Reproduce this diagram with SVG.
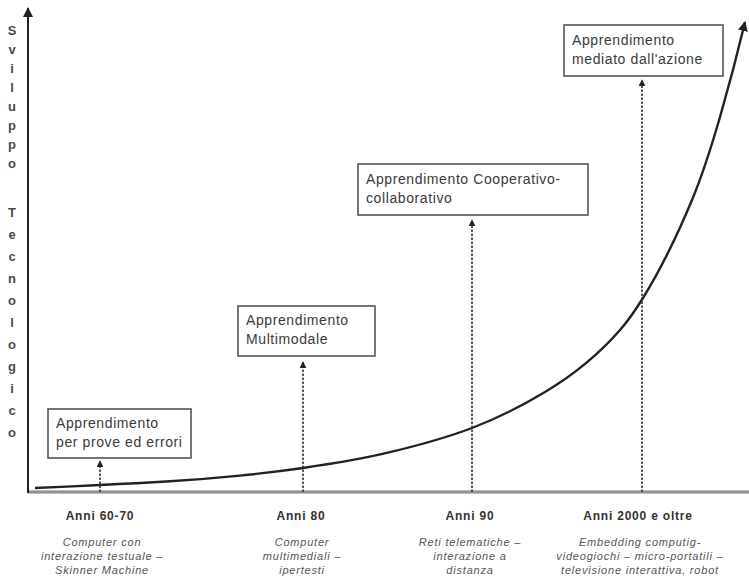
<svg xmlns="http://www.w3.org/2000/svg" width="749" height="579" viewBox="0 0 749 579">
  <style>
    .box { fill: #fff; stroke: #555; stroke-width: 1.6; }
    .boxtxt { font-family: "Liberation Sans", Arial, sans-serif; font-size: 14px; fill: #3a3a3a; letter-spacing: 0.6px; }
    .axislbl { font-family: "Liberation Sans", Arial, sans-serif; font-size: 13px; font-weight: bold; fill: #4a4a4a; text-anchor: middle; }
    .era { font-family: "Liberation Sans", Arial, sans-serif; font-size: 12px; font-weight: bold; fill: #333; text-anchor: middle; letter-spacing: 0.8px; }
    .desc { font-family: "Liberation Sans", Arial, sans-serif; font-size: 11px; font-style: italic; fill: #555; text-anchor: middle; letter-spacing: 0.8px; }
    .guide { stroke: #333; stroke-width: 1.6; stroke-dasharray: 2.5 1.5; fill: none; }
  </style>
  <defs>
    <marker id="tip" viewBox="0 0 10 10" refX="9" refY="5" markerWidth="7" markerHeight="7" orient="auto" markerUnits="userSpaceOnUse">
      <path d="M0,0 L10,5 L0,10 z" fill="#222"/>
    </marker>
    <marker id="bigtip" viewBox="0 0 10 10" refX="9" refY="5" markerWidth="10" markerHeight="10" orient="auto" markerUnits="userSpaceOnUse">
      <path d="M0,0 L10,5 L0,10 z" fill="#222"/>
    </marker>
  </defs>
  <rect width="749" height="579" fill="#fff"/>

  <!-- vertical axis title, one letter per line -->
  <g id="y-title">
    <text class="axislbl" x="12" y="35">S</text>
    <text class="axislbl" x="12" y="54">v</text>
    <text class="axislbl" x="12" y="73">i</text>
    <text class="axislbl" x="12" y="92">l</text>
    <text class="axislbl" x="12" y="111">u</text>
    <text class="axislbl" x="12" y="130">p</text>
    <text class="axislbl" x="12" y="149">p</text>
    <text class="axislbl" x="12" y="168">o</text>
    <text class="axislbl" x="12" y="217">T</text>
    <text class="axislbl" x="12" y="239">e</text>
    <text class="axislbl" x="12" y="261">c</text>
    <text class="axislbl" x="12" y="283">n</text>
    <text class="axislbl" x="12" y="305">o</text>
    <text class="axislbl" x="12" y="327">l</text>
    <text class="axislbl" x="12" y="349">o</text>
    <text class="axislbl" x="12" y="371">g</text>
    <text class="axislbl" x="12" y="393">i</text>
    <text class="axislbl" x="12" y="415">c</text>
    <text class="axislbl" x="12" y="437">o</text>
  </g>

  <!-- axes -->
  <g id="axes">
    <line x1="28" y1="492" x2="749" y2="492" stroke="#777" stroke-width="3"/>
    <line x1="28" y1="492" x2="749" y2="492" stroke="#bbb" stroke-width="0.8"/>
    <line x1="28" y1="493" x2="28" y2="8" stroke="#222" stroke-width="2" marker-end="url(#bigtip)"/>
  </g>

  <g id="connectors">
    <!-- growth curve -->
    <path d="M35,488 C56.7,487.1 78.3,486 100,485 C123.3,484 146.7,482.8 170,481.3 C193.3,479.8 216.7,477.9 240,475.6 C261,473.5 282,471 303,468 C332,463.8 361,459.2 390,452.2 C417.3,445.6 444.7,438.4 472,428 C496.3,418.8 520.7,406.6 545,392 C570,377 595,358.8 620,330 C627.7,321.2 635.3,310.4 643,298 C659.3,271.5 675.7,239.2 692,200 C701.3,177.6 710.7,149.2 720,117 C728.3,88.3 736.7,57 745,22" fill="none" stroke="#222" stroke-width="2.4" marker-end="url(#bigtip)"/>
    <!-- era guides -->
    <line class="guide" x1="100" y1="492" x2="100" y2="461" marker-end="url(#tip)"/>
    <line class="guide" x1="303" y1="492" x2="303" y2="362" marker-end="url(#tip)"/>
    <line class="guide" x1="472" y1="492" x2="472" y2="220" marker-end="url(#tip)"/>
    <line class="guide" x1="642" y1="492" x2="642" y2="80" marker-end="url(#tip)"/>
  </g>

  <g id="box-prove-errori">
    <rect class="box" x="48" y="409" width="143" height="49"/>
    <text class="boxtxt" x="56" y="428">Apprendimento</text>
    <text class="boxtxt" x="56" y="447">per prove ed errori</text>
  </g>

  <g id="box-multimodale">
    <rect class="box" x="238" y="306" width="137" height="50"/>
    <text class="boxtxt" x="246" y="325">Apprendimento</text>
    <text class="boxtxt" x="246" y="344">Multimodale</text>
  </g>

  <g id="box-cooperativo">
    <rect class="box" x="358" y="164" width="230" height="51"/>
    <text class="boxtxt" x="366" y="184">Apprendimento Cooperativo-</text>
    <text class="boxtxt" x="366" y="203">collaborativo</text>
  </g>

  <g id="box-azione">
    <rect class="box" x="564" y="25" width="159" height="51"/>
    <text class="boxtxt" x="572" y="45">Apprendimento</text>
    <text class="boxtxt" x="572" y="64">mediato dall'azione</text>
  </g>

  <g id="era-6070">
    <text class="era" x="100" y="520">Anni 60-70</text>
    <text class="desc" x="102" y="546">Computer con</text>
    <text class="desc" x="102" y="560">interazione testuale –</text>
    <text class="desc" x="102" y="574">Skinner Machine</text>
  </g>

  <g id="era-80">
    <text class="era" x="301" y="520">Anni 80</text>
    <text class="desc" x="302" y="546">Computer</text>
    <text class="desc" x="302" y="560">multimediali –</text>
    <text class="desc" x="302" y="574">ipertesti</text>
  </g>

  <g id="era-90">
    <text class="era" x="470" y="520">Anni 90</text>
    <text class="desc" x="470" y="546">Reti telematiche –</text>
    <text class="desc" x="470" y="560">interazione a</text>
    <text class="desc" x="470" y="574">distanza</text>
  </g>

  <g id="era-2000">
    <text class="era" x="638" y="520">Anni 2000 e oltre</text>
    <text class="desc" x="640" y="546">Embedding computig-</text>
    <text class="desc" x="640" y="560">videogiochi – micro-portatili –</text>
    <text class="desc" x="640" y="574">televisione interattiva, robot</text>
  </g>
</svg>
